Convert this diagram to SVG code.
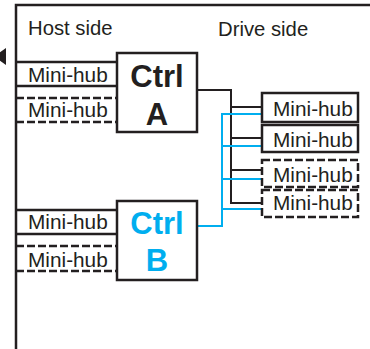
<svg xmlns="http://www.w3.org/2000/svg" width="370" height="349" viewBox="0 0 370 349">
<style>
.ln{stroke:#231F20;stroke-width:2.5;fill:none}
.dash{stroke:#231F20;stroke-width:2.5;fill:none;stroke-dasharray:8 3}
.box{stroke:#231F20;stroke-width:2.5;fill:#fff}
.dbox{stroke:#231F20;stroke-width:2.5;fill:#fff;stroke-dasharray:8 3}
.blk{stroke:#231F20;stroke-width:2;fill:none}
.blu{stroke:#00AEEF;stroke-width:2;fill:none}
.t{font-family:"Liberation Sans",Arial,sans-serif;font-size:20.8px;fill:#231F20}
.h{font-family:"Liberation Sans",Arial,sans-serif;font-size:20.3px;fill:#231F20}
.c{font-family:"Liberation Sans",Arial,sans-serif;font-size:31px;font-weight:bold;text-anchor:middle}
</style>
<rect width="370" height="349" fill="#fff"/>
<g id="frame">
<path class="ln" d="M16,349 V5 H370"/>
<polygon points="6,48 6,65 -6,56.5" fill="#231F20"/>
<text class="h" x="28" y="35">Host side</text>
<text class="h" x="218" y="36">Drive side</text>
</g>
<g id="connectors">
<path class="blk" d="M197,90 H231 V203 H262 M231,107 H262 M231,138 H262 M231,170 H262"/>
<path class="blu" d="M197,226 H222 V114 H262 M222,146 H262 M222,179 H262 M222,209 H262"/>
</g>
<g id="hubA1"><path class="ln" d="M16,62 H117 M16,86 H117"/><text class="t" x="28" y="82">Mini-hub</text></g>
<g id="hubA2"><path class="dash" d="M16,98 H117 M16,122 H117"/><text class="t" x="28" y="117">Mini-hub</text></g>
<g id="hubB1"><path class="ln" d="M16,210 H117 M16,234 H117"/><text class="t" x="28" y="229">Mini-hub</text></g>
<g id="hubB2"><path class="dash" d="M16,246 H117 M16,271 H117"/><text class="t" x="28" y="267">Mini-hub</text></g>
<g id="ctrlA"><rect class="box" x="117" y="53" width="80" height="79"/><text class="c" x="157" y="87" fill="#231F20">Ctrl</text><text class="c" x="157" y="125" fill="#231F20">A</text></g>
<g id="ctrlB"><rect class="box" x="117" y="201" width="80" height="79"/><text class="c" x="157" y="234" fill="#00AEEF">Ctrl</text><text class="c" x="157" y="271" fill="#00AEEF">B</text></g>
<g id="hubD1"><rect class="box" x="262" y="93" width="96" height="29"/><text class="t" x="273" y="116">Mini-hub</text></g>
<g id="hubD2"><rect class="box" x="262" y="125" width="96" height="27"/><text class="t" x="273" y="147">Mini-hub</text></g>
<g id="hubD3"><rect class="dbox" x="262" y="160" width="96" height="27"/><text class="t" x="273" y="182">Mini-hub</text></g>
<g id="hubD4"><rect class="dbox" x="262" y="190" width="96" height="27"/><text class="t" x="273" y="210">Mini-hub</text></g>
</svg>
